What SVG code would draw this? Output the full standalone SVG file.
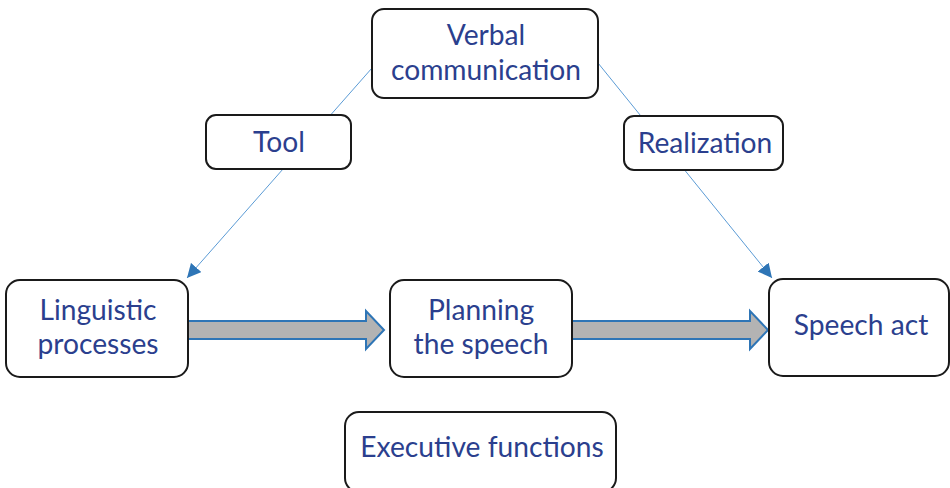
<svg xmlns="http://www.w3.org/2000/svg" width="950" height="488" viewBox="0 0 950 488">
<defs>
<style>
.box{fill:#fff;stroke:#1a1a1a;stroke-width:2}
.t{font-family:Lato,"Open Sans","Liberation Sans",sans-serif;font-size:28.2px;fill:#2b3f8e;text-anchor:middle}
.thin{stroke:#5b9bd5;stroke-width:1;fill:none}
.block{fill:#b3b3b3;stroke:#2e75b6;stroke-width:2;stroke-linejoin:miter}
</style>
<marker id="ah" viewBox="0 0 10 10" refX="10" refY="5" markerWidth="14" markerHeight="14" markerUnits="userSpaceOnUse" orient="auto">
<path d="M0,0 L10,5 L0,10 z" fill="#2e75b6"/>
</marker>
</defs>
<g id="connectors">
<line class="thin" x1="372" y1="68" x2="187" y2="278" marker-end="url(#ah)"/>
<line class="thin" x1="598" y1="63" x2="772" y2="278" marker-end="url(#ah)"/>
<path class="block" d="M188,321 L366,321 L366,311 L384,330 L366,349 L366,339 L188,339 Z"/>
<path class="block" d="M572,321 L750,321 L750,311 L768,330 L750,349 L750,339 L572,339 Z"/>
</g>
<g id="verbal">
<rect class="box" x="372" y="9" width="226" height="89" rx="12"/>
<text class="t" x="486" y="45">Verbal</text>
<text class="t" x="486" y="80">communication</text>
</g>
<g id="tool">
<rect class="box" x="206" y="115" width="145" height="54" rx="10"/>
<text class="t" x="279" y="152">Tool</text>
</g>
<g id="realization">
<rect class="box" x="624" y="116" width="159" height="54" rx="10"/>
<text class="t" x="705" y="153">Realization</text>
</g>
<g id="linguistic">
<rect class="box" x="6" y="280" width="182" height="97" rx="14"/>
<text class="t" x="98" y="320">Linguistic</text>
<text class="t" x="98" y="354">processes</text>
</g>
<g id="planning">
<rect class="box" x="390" y="280" width="182" height="97" rx="14"/>
<text class="t" x="481" y="320">Planning</text>
<text class="t" x="481" y="354">the speech</text>
</g>
<g id="speech">
<rect class="box" x="769" y="279" width="180" height="97" rx="14"/>
<text class="t" x="861" y="335">Speech act</text>
</g>
<g id="executive">
<rect class="box" x="345" y="412" width="271" height="80" rx="14"/>
<text class="t" x="482" y="457">Executive functions</text>
</g>
</svg>
